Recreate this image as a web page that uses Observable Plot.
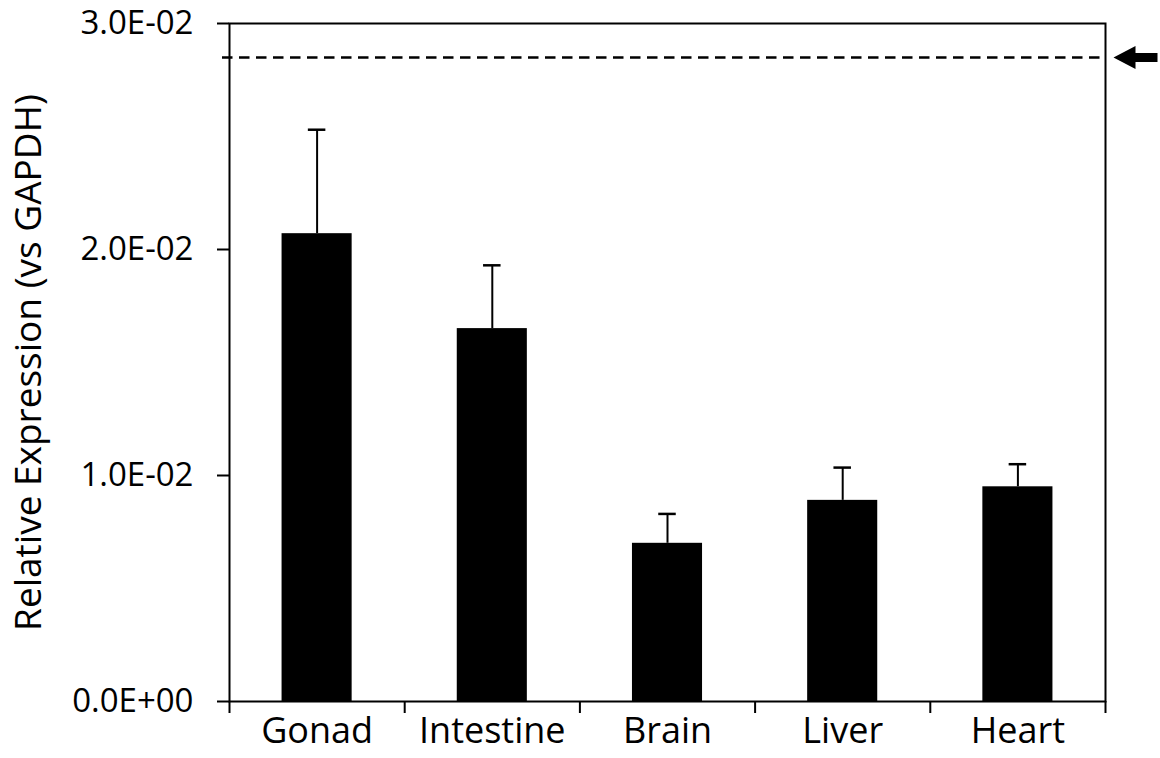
<!DOCTYPE html>
<html>
<head>
<meta charset="utf-8">
<script src="https://cdn.jsdelivr.net/npm/d3@7"></script>
<script src="https://cdn.jsdelivr.net/npm/@observablehq/plot@0.6"></script>
<style>
  html, body { margin: 0; padding: 0; background: #fff; }
  #chart { width: 1160px; height: 758px; }
</style>
</head>
<body>
<div id="chart"></div>
<script>
// Data
const tissues = ["Gonad", "Intestine", "Brain", "Liver", "Heart"];
const expression = [0.0207, 0.0165, 0.0070, 0.0089, 0.0095];
const errors = [0.0046, 0.0028, 0.0013, 0.00145, 0.0010];
const threshold = [0.0285];
const yTicks = [0, 0.01, 0.02, 0.03];
const yLabel = "Relative Expression (vs GAPDH)";

const rows = tissues.map((t, i) => ({
  tissue: t, i, value: expression[i], top: expression[i] + errors[i]
}));

function sci(v) {
  if (v === 0) return "0.0E+00";
  const e = Math.floor(Math.log10(Math.abs(v)) + 1e-9);
  const m = v / Math.pow(10, e);
  return m.toFixed(1) + "E" + (e < 0 ? "-" : "+") + String(Math.abs(e)).padStart(2, "0");
}

// Filled left-pointing arrow symbol
const arrowSymbol = {
  draw(ctx) {
    ctx.moveTo(-22, 0);
    ctx.lineTo(0, -11.5);
    ctx.lineTo(0, -4.5);
    ctx.lineTo(22, -4.5);
    ctx.lineTo(22, 4.5);
    ctx.lineTo(0, 4.5);
    ctx.lineTo(0, 11.5);
    ctx.closePath();
  }
};

const FAMILY = "'Open Sans', Lato, sans-serif";

const chart = Plot.plot({
  width: 1160,
  height: 758,
  marginLeft: 229,
  marginRight: 55,
  marginTop: 23,
  marginBottom: 57,
  style: { fontFamily: FAMILY, fontSize: "33px", background: "#fff", color: "#000" },
  x: { type: "linear", domain: [0, tissues.length] },
  y: { domain: [0, 0.03] },
  marks: [
    Plot.rectY(rows, { x1: d => d.i + 0.3, x2: d => d.i + 0.7, y1: 0, y2: "value", fill: "#000" }),
    Plot.ruleX(rows, { x: d => d.i + 0.5, y1: "value", y2: "top", stroke: "#000", strokeWidth: 2 }),
    Plot.ruleY(rows, { y: "top", x1: d => d.i + 0.45, x2: d => d.i + 0.55, stroke: "#000", strokeWidth: 2.5 }),
    Plot.ruleY(threshold, { y: d => d, stroke: "#000", strokeWidth: 2.5, strokeDasharray: "10.5,6.5", insetLeft: -7 }),
    Plot.dot(threshold, { y: d => d, frameAnchor: "right", dx: 30, symbol: arrowSymbol, fill: "#000", stroke: "none", clip: false }),
    Plot.frame({ stroke: "#000", strokeWidth: 2 }),
    Plot.axisY({
      ticks: yTicks, tickFormat: sci, tickSize: 12, tickPadding: 24, strokeWidth: 2,
      fontSize: 33, label: null
    }),
    Plot.text([yLabel], { text: d => d, frameAnchor: "left", textAnchor: "middle", lineAnchor: "middle", dx: -200, rotate: -90, fontSize: 37, fill: "#000" }),
    Plot.axisX({ ticks: d3.range(0, tissues.length + 1), tickFormat: () => "", tickSize: 12, strokeWidth: 2, label: null }),
    Plot.axisX({
      ticks: tissues.map((t, i) => i + 0.5), tickFormat: v => tissues[Math.round(v - 0.5)],
      tickSize: 0, tickPadding: 16, fontSize: 36, label: null
    })
  ]
});

document.getElementById("chart").appendChild(chart);
</script>
</body>
</html>
